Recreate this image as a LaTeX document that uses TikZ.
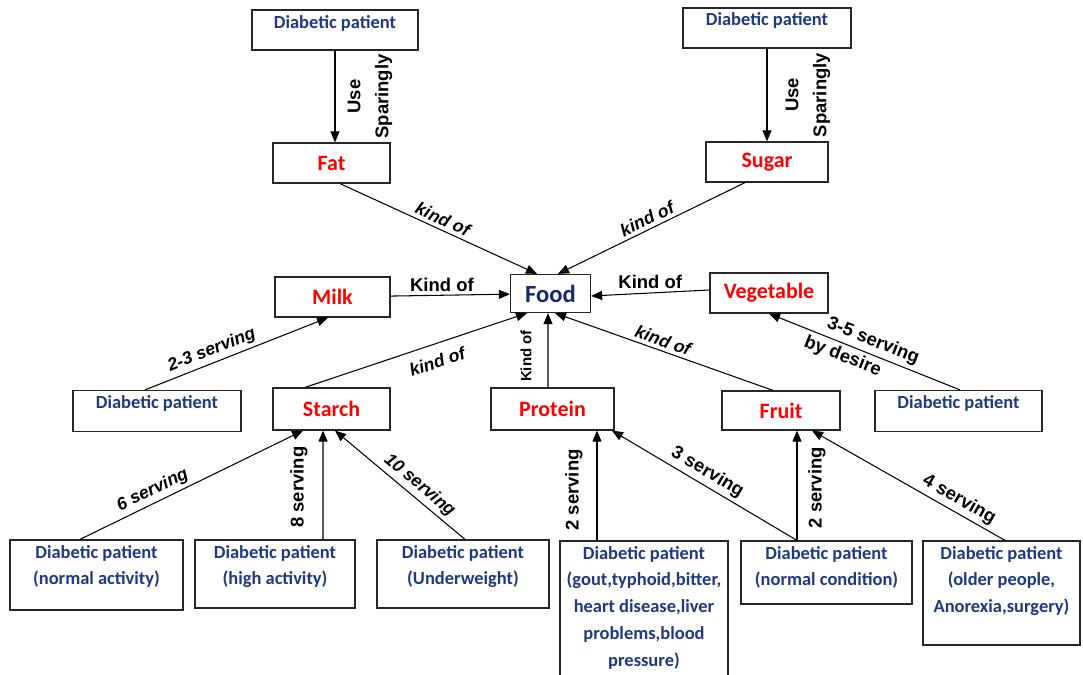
\documentclass[tikz,border=0pt]{standalone}
\usepackage{fontspec}
\usetikzlibrary{arrows.meta}
\newfontfamily\calibfont{Carlito}
\newfontfamily\arialfont{Liberation Sans}
\definecolor{dpblue}{RGB}{31,56,130}
\definecolor{foodblue}{RGB}{22,42,105}
\definecolor{partred}{RGB}{255,0,0}
\newcommand{\dptext}[3]{\parbox[c][#2][t]{#1}{\centering\rule{0pt}{0.36cm}#3}}

\begin{document}
\begin{tikzpicture}[
    dp/.style={draw=black!85, line width=0.7pt, inner sep=0pt, text=dpblue,
        font=\calibfont\bfseries\fontsize{10.5}{15.3}\selectfont},
    part/.style={draw=black!85, line width=0.7pt, text=partred,
        font=\calibfont\bfseries\fontsize{12.5}{14}\selectfont},
    link/.style={-{Triangle[length=2.2mm, width=1.8mm]}, line width=0.6pt},
    lbl/.style={font=\arialfont\bfseries\fontsize{10.5}{16}\selectfont, inner sep=2pt},
    slbl/.style={lbl, font=\arialfont\bfseries\itshape\fontsize{10}{12}\selectfont}
]
    \useasboundingbox (0,0) rectangle (21.66,-13.48);
    % food groups
    \node[draw=black!85, line width=0.7pt, minimum width=1.60cm, minimum height=0.76cm,
        text=foodblue, font=\calibfont\bfseries\fontsize{14}{16}\selectfont] (food) at (11.01,-5.87) {Food};
    \node[part, minimum width=2.34cm, minimum height=0.80cm] (fat) at (6.63,-3.26) {Fat};
    \node[part, minimum width=2.44cm, minimum height=0.80cm] (sugar) at (15.34,-3.24) {Sugar};
    \node[part, minimum width=2.30cm, minimum height=0.80cm] (milk) at (6.65,-5.94) {Milk};
    \node[part, minimum width=2.36cm, minimum height=0.80cm] (veg) at (15.38,-5.86) {Vegetable};
    \node[part, minimum width=2.34cm, minimum height=0.84cm] (starch) at (6.63,-8.18) {Starch};
    \node[part, minimum width=2.46cm, minimum height=0.84cm] (protein) at (11.05,-8.18) {Protein};
    \node[part, minimum width=2.36cm, minimum height=0.78cm] (fruit) at (15.62,-8.21) {Fruit};
    % patients
    \node[dp] (dpFat) at (6.70,-0.60) {\dptext{3.32cm}{0.80cm}{Diabetic patient}};
    \node[dp] (dpSugar) at (15.34,-0.56) {\dptext{3.36cm}{0.80cm}{Diabetic patient}};
    \node[dp] (dpMilk) at (3.14,-8.22) {\dptext{3.36cm}{0.82cm}{Diabetic patient}};
    \node[dp] (dpVeg) at (19.17,-8.22) {\dptext{3.34cm}{0.82cm}{Diabetic patient}};
    \node[dp] (dpAct) at (1.93,-11.50) {\dptext{3.46cm}{1.40cm}{Diabetic patient\\(normal activity)}};
    \node[dp] (dpHigh) at (5.50,-11.48) {\dptext{3.20cm}{1.36cm}{Diabetic patient\\(high activity)}};
    \node[dp] (dpUnder) at (9.26,-11.48) {\dptext{3.44cm}{1.36cm}{Diabetic patient\\(Underweight)}};
    \node[dp] (dpGout) at (12.88,-12.22) {\dptext{3.36cm}{2.80cm}{Diabetic patient\\(gout,typhoid,bitter,\\heart disease,liver\\problems,blood\\pressure)}};
    \node[dp] (dpCond) at (16.53,-11.45) {\dptext{3.42cm}{1.26cm}{Diabetic patient\\(normal condition)}};
    \node[dp] (dpOld) at (20.03,-11.86) {\dptext{3.14cm}{2.08cm}{Diabetic patient\\(older people,\\Anorexia,surgery)}};
    % links
    \draw[link] (dpFat.south) -- (dpFat.south |- fat.north)
        node[lbl, midway, xshift=0.7cm, rotate=90, align=center] {Use\\Sparingly};
    \draw[link] (dpSugar.south) -- (dpSugar.south |- sugar.north)
        node[lbl, midway, xshift=0.82cm, rotate=90, align=center] {Use\\Sparingly};
    \draw[link] ([xshift=0.17cm]fat.south) -- ([xshift=-0.27cm]food.north)
        node[slbl, midway, sloped, above] {kind of};
    \draw[link] ([xshift=-0.44cm]sugar.south) -- ([xshift=0.15cm]food.north)
        node[slbl, midway, sloped, above] {kind of};
    \draw[link] (milk) -- (food) node[lbl, pos=0.43, above] {Kind of};
    \draw[link] ([yshift=0.06cm]veg.west) -- ([yshift=-0.05cm]food.east)
        node[lbl, midway, above] {Kind of};
    \draw[link] ([xshift=-0.53cm]starch.north) -- ([xshift=-0.47cm]food.south)
        node[slbl, pos=0.57, sloped, below=4pt] {kind of};
    \draw[link] ([xshift=-0.09cm]protein.north) -- ([xshift=-0.05cm]food.south)
        node[lbl, font=\arialfont\bfseries\fontsize{8.5}{10}\selectfont, pos=0.42,
            xshift=-0.44cm, rotate=90] {Kind of};
    \draw[link] ([xshift=-0.16cm]fruit.north) -- ([xshift=0.09cm]food.south)
        node[slbl, pos=0.52, sloped, above] {kind of};
    \draw[link] ([xshift=-0.24cm]dpMilk.north) -- ([xshift=-0.09cm]milk.south)
        node[slbl, pos=0.39, sloped, above] {2-3 serving};
    \draw[link] ([xshift=0.03cm]dpVeg.north) -- (veg.south)
        node[lbl, pos=0.48, sloped, above] {3-5 serving}
        node[lbl, pos=0.59, sloped, below] {by desire};
    \draw[link] ([xshift=-0.33cm]dpAct.north) -- ([xshift=-0.57cm]starch.south)
        node[slbl, pos=0.35, sloped, above] {6 serving};
    \draw[link] ([xshift=0.96cm]dpHigh.north) -- ([xshift=-0.17cm]starch.south)
        node[lbl, pos=0.48, xshift=-0.48cm, rotate=90] {8 serving};
    \draw[link] ([xshift=0.04cm]dpUnder.north) -- ([xshift=0.07cm]starch.south)
        node[slbl, pos=0.41, sloped, above] {10 serving};
    \draw[link] ([xshift=-0.94cm]dpGout.north) -- ([xshift=0.89cm]protein.south)
        node[lbl, pos=0.46, xshift=-0.46cm, rotate=90] {2 serving};
    \draw[link] ([xshift=-0.59cm]dpCond.north) -- ([xshift=1.19cm]protein.south)
        node[lbl, pos=0.52, sloped, above] {3 serving};
    \draw[link] ([xshift=-0.59cm]dpCond.north) -- ([xshift=0.32cm]fruit.south)
        node[lbl, pos=0.48, xshift=0.4cm, rotate=90] {2 serving};
    \draw[link] ([xshift=0.07cm]dpOld.north) -- ([xshift=0.62cm]fruit.south)
        node[lbl, pos=0.27, sloped, above] {4 serving};
\end{tikzpicture}
\end{document}
